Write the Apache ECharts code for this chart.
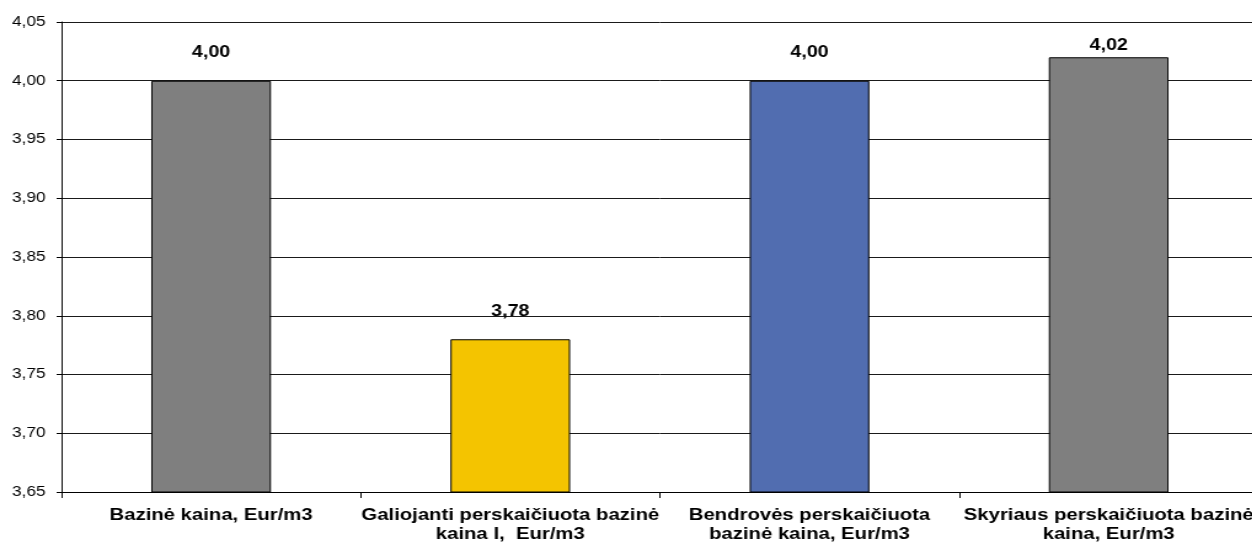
<!DOCTYPE html>
<html>
<head>
<meta charset="utf-8">
<script src="https://cdn.jsdelivr.net/npm/echarts@6/dist/echarts.min.js"></script>
<style>
html,body{margin:0;padding:0;background:#fff;overflow:hidden;width:1252px;height:542px;}
#c{width:1023px;height:542px;transform:scaleX(1.23);transform-origin:0 0;}
</style>
</head>
<body>
<div id="c"></div>
<script>
var categories = [
  'Bazinė kaina, Eur/m3',
  'Galiojanti perskaičiuota bazinė\nkaina I,  Eur/m3',
  'Bendrovės perskaičiuota\nbazinė kaina, Eur/m3',
  'Skyriaus perskaičiuota bazinė\nkaina, Eur/m3'
];
var values = [4.00, 3.78, 4.00, 4.02];
var yMin = 3.65, yMax = 4.05, yStep = 0.05;

var barColors = ['#7f7f7f', '#f4c400', '#516db0', '#7f7f7f'];
var labelDistances = [20, 20, 20, 4];

function fmt(v){ return Number(v).toFixed(2).replace('.', ','); }

var chart = echarts.init(document.getElementById('c'), null, {renderer:'canvas'});
chart.setOption({
  animation: false,
  textStyle: {fontFamily: 'Liberation Sans, Arial, sans-serif'},
  grid: {left: 50, right: 0, top: 22, bottom: 50, containLabel: false, outerBoundsMode: 'none'},
  xAxis: {
    type: 'category',
    data: categories,
    boundaryGap: true,
    axisLine: {show: true, lineStyle: {color: '#000', width: 1}},
    axisTick: {show: true, length: 6, alignWithLabel: false, lineStyle: {color: '#000'}},
    axisLabel: {interval: 0, color: '#000', fontWeight: 'bold', fontSize: 16.5, lineHeight: 19, margin: 14,
      fontFamily: 'Liberation Sans, Arial, sans-serif'}
  },
  yAxis: {
    type: 'value',
    min: yMin, max: yMax, interval: yStep,
    axisLine: {show: true, lineStyle: {color: '#000', width: 1}},
    axisTick: {show: true, length: 4, lineStyle: {color: '#000'}},
    axisLabel: {color: '#000', fontSize: 14, margin: 13, formatter: fmt,
      fontFamily: 'Liberation Sans, Arial, sans-serif'},
    splitLine: {show: true, lineStyle: {color: '#1a1a1a', width: 1}}
  },
  series: [{
    type: 'bar',
    barWidth: '40%',
    data: values.map(function(v, i){
      return {
        value: v,
        itemStyle: {color: barColors[i], borderColor: '#000', borderWidth: 1},
        label: {distance: labelDistances[i]}
      };
    }),
    label: {
      show: true, position: 'top', color: '#000', fontWeight: 'bold', fontSize: 16,
      fontFamily: 'Liberation Sans, Arial, sans-serif',
      formatter: function(p){ return fmt(p.value); }
    }
  }]
});
</script>
</body>
</html>
